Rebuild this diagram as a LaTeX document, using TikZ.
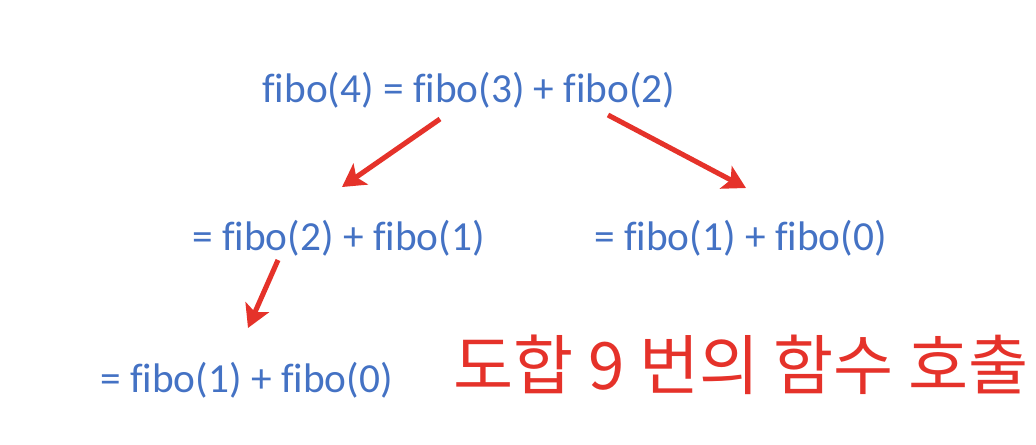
\documentclass[tikz,border=0pt]{standalone}
\usepackage{fontspec}
\setmainfont{Carlito}[Ligatures=CommonOff]
\newfontfamily\krfont{Noto Sans CJK KR}
\usetikzlibrary{arrows.meta}
\definecolor{fiboblue}{HTML}{4472C4}
\definecolor{arrred}{HTML}{E5322A}
\tikzset{
  eq/.style={inner sep=0pt, anchor=base west, text=fiboblue, font=\fontsize{31}{37}\selectfont},
  redarrow/.style={draw=arrred, line width=3.8pt, -{Stealth[length=17pt, width=19pt, inset=4pt]}},
  total/.style={inner sep=0pt, anchor=base west, text=arrred, font=\krfont\fontsize{49}{58}\selectfont}
}
\begin{document}
\begin{tikzpicture}[x=0.75pt, y=-0.75pt]
\useasboundingbox (0,0) rectangle (1036,444);
\node[eq] (top) at (262,102) {fibo(4) = fibo(3) + fibo(2)};
\node[eq] (midl) at (192,250) {= fibo(2) + fibo(1)};
\node[eq] (midr) at (594,250) {= fibo(1) + fibo(0)};
\node[eq] (bot) at (100,392) {= fibo(1) + fibo(0)};
\node[total] (sum) at (453,389) {도합 9 번의 함수 호출};
\coordinate (a1s) at (440,119);
\coordinate (a1e) at (342,187);
\coordinate (a2s) at (608,115);
\coordinate (a2e) at (746,188);
\coordinate (a3s) at (278,260);
\coordinate (a3e) at (248,328);
\draw[redarrow] (a1s) -- (a1e);
\draw[redarrow] (a2s) -- (a2e);
\draw[redarrow] (a3s) -- (a3e);
\end{tikzpicture}
\end{document}
